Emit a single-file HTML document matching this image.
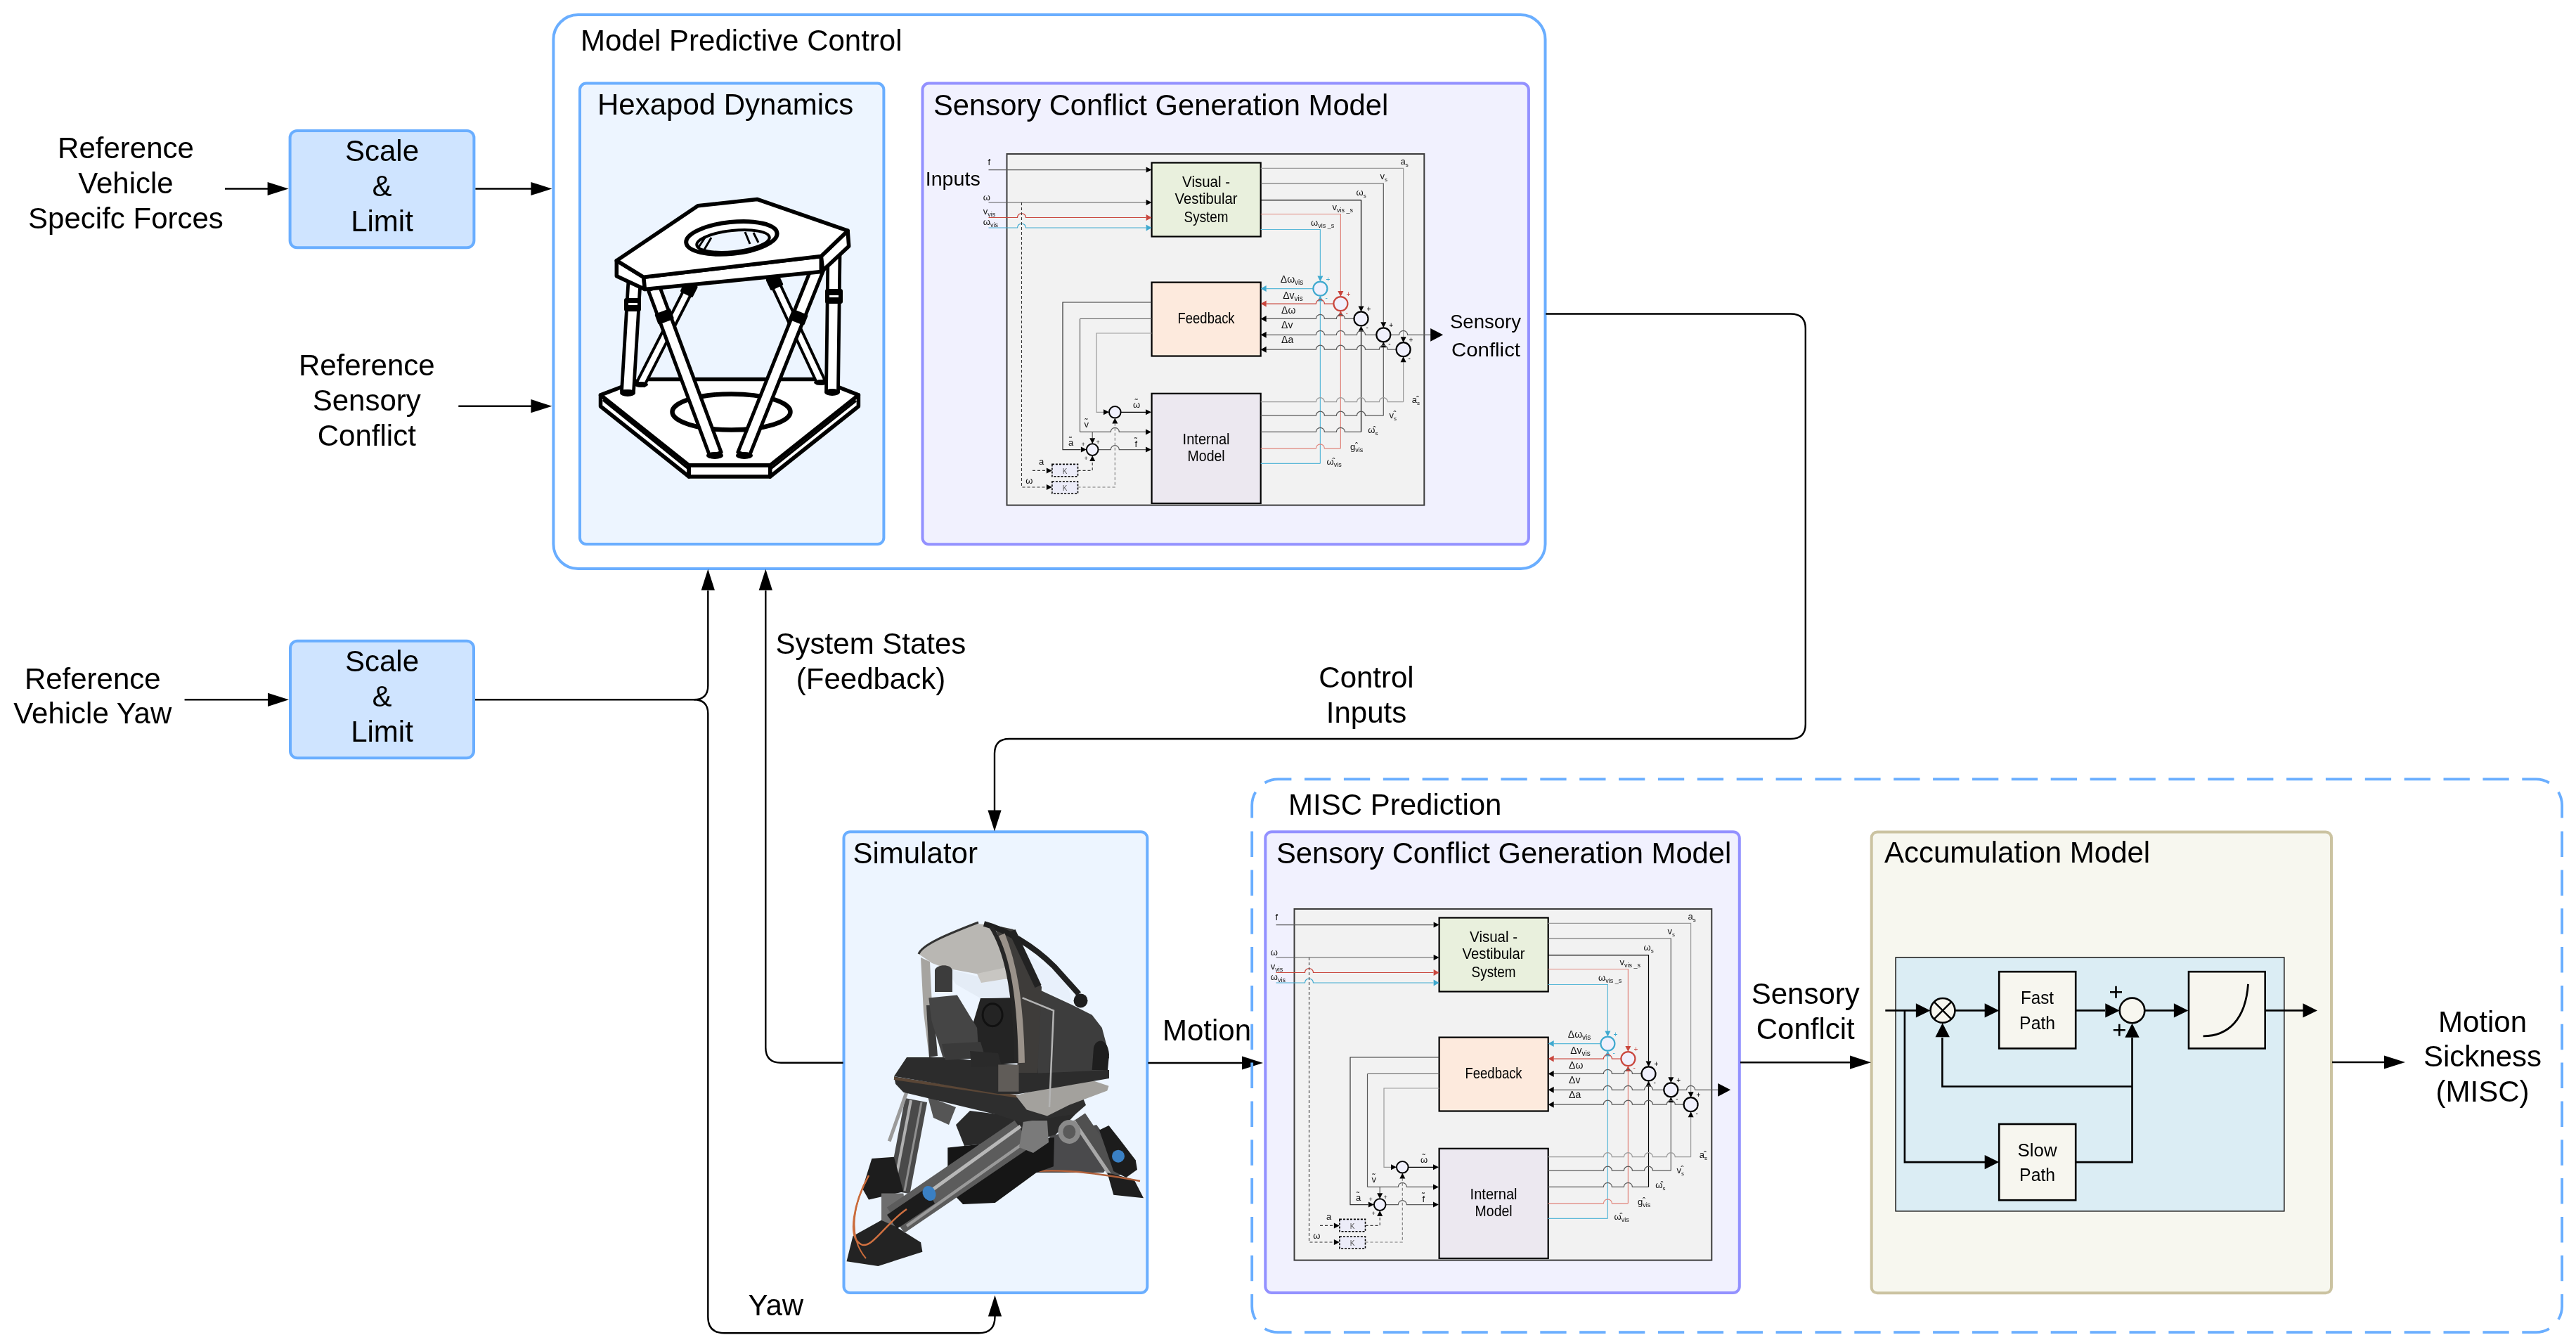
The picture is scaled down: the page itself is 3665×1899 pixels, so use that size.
<!DOCTYPE html><html><head><meta charset="utf-8"><style>html,body{margin:0;padding:0;background:#fff;overflow:hidden}svg{display:block}text{font-family:"Liberation Sans",sans-serif}svg{will-change:transform}</style></head><body>
<svg width="3665" height="1899" viewBox="0 0 3665 1899">
<rect x="787.4" y="21" width="1411.1" height="788" rx="35" ry="35" fill="#fff" stroke="#6aaeff" stroke-width="4"/>
<rect x="825" y="118.6" width="432.4" height="655.4" rx="9" ry="9" fill="#edf5ff" stroke="#6aaeff" stroke-width="4"/>
<rect x="1312.5" y="118.6" width="862.4" height="655.7" rx="9" ry="9" fill="#f1f1fe" stroke="#9391ff" stroke-width="4"/>
<rect x="412.6" y="186" width="261.8" height="166.3" rx="10" ry="10" fill="#cfe4ff" stroke="#6aaeff" stroke-width="4"/>
<rect x="413" y="911.8" width="261" height="166.5" rx="10" ry="10" fill="#cfe4ff" stroke="#6aaeff" stroke-width="4"/>
<rect x="1200.5" y="1183.3" width="431.8" height="655.7" rx="9" ry="9" fill="#edf5ff" stroke="#6aaeff" stroke-width="4"/>
<rect x="1800.3" y="1183.3" width="674.5" height="655.7" rx="9" ry="9" fill="#f1f1fe" stroke="#9391ff" stroke-width="4"/>
<rect x="2662.7" y="1183.6" width="654.3" height="655.6" rx="8" ry="8" fill="#f7f7ef" stroke="#cbc3a1" stroke-width="4"/>
<g transform="translate(1432.5 219)"><rect x="0" y="0" width="593.8" height="499.6" fill="#f2f2f2" stroke="#3c3c3c" stroke-width="2"/>
<rect x="206.1" y="12.5" width="155.1" height="105" fill="#e9f0dd" stroke="#000" stroke-width="2.2"/>
<rect x="206.1" y="182.6" width="155.1" height="104.9" fill="#fdeadd" stroke="#000" stroke-width="2.2"/>
<rect x="206.1" y="340.8" width="155.1" height="156.2" fill="#ece8f0" stroke="#000" stroke-width="2.2"/>
<text x="283.6" y="47.0" font-size="22" text-anchor="middle" fill="#000" textLength="68" lengthAdjust="spacingAndGlyphs">Visual -</text>
<text x="283.6" y="71.4" font-size="22" text-anchor="middle" fill="#000" textLength="89" lengthAdjust="spacingAndGlyphs">Vestibular</text>
<text x="283.6" y="97.0" font-size="22" text-anchor="middle" fill="#000" textLength="63" lengthAdjust="spacingAndGlyphs">System</text>
<text x="283.6" y="240.6" font-size="22" text-anchor="middle" fill="#000" textLength="81" lengthAdjust="spacingAndGlyphs">Feedback</text>
<text x="283.6" y="412.7" font-size="22" text-anchor="middle" fill="#000" textLength="67" lengthAdjust="spacingAndGlyphs">Internal</text>
<text x="283.6" y="437.4" font-size="22" text-anchor="middle" fill="#000" textLength="53" lengthAdjust="spacingAndGlyphs">Model</text>
<path d="M361.2 107.5H445.9V173.6" fill="none" stroke="#5ab8d8" stroke-width="1.2" />
<path d="M445.9 181.6L441.9 173.6L449.9 173.6Z" fill="#3fa9cf"/>
<path d="M361.2 85.5H474.9V195.1" fill="none" stroke="#e0857c" stroke-width="1.2" />
<path d="M474.9 203.1L470.9 195.1L478.9 195.1Z" fill="#c9463d"/>
<path d="M361.2 65.7H504.0V216.4" fill="none" stroke="#000" stroke-width="1.2" />
<path d="M504.0 224.4L500.0 216.4L508.0 216.4Z" fill="#000"/>
<path d="M361.2 42.0H535.8V239.3" fill="none" stroke="#5a5a5a" stroke-width="1.2" />
<path d="M535.8 247.3L531.8 239.3L539.8 239.3Z" fill="#000"/>
<path d="M361.2 20.3H564.1V260.2" fill="none" stroke="#9a9a9a" stroke-width="1.2" />
<path d="M564.1 268.2L560.1 260.2L568.1 260.2Z" fill="#000"/>
<path d="M361.2 440.3H445.9" fill="none" stroke="#5ab8d8" stroke-width="1.2" />
<path d="M445.9 440.3V209.6" fill="none" stroke="#5ab8d8" stroke-width="1.2" />
<path d="M445.9 201.6L441.9 209.6L449.9 209.6Z" fill="#3fa9cf"/>
<path d="M361.2 418.8H439.9A6 6 0 0 1 451.9 418.8H474.9" fill="none" stroke="#e0857c" stroke-width="1.2" />
<path d="M474.9 418.8V231.1" fill="none" stroke="#e0857c" stroke-width="1.2" />
<path d="M474.9 223.1L470.9 231.1L478.9 231.1Z" fill="#c9463d"/>
<path d="M361.2 395.4H439.9A6 6 0 0 1 451.9 395.4H468.9A6 6 0 0 1 480.9 395.4H504.0" fill="none" stroke="#5a5a5a" stroke-width="1.2" />
<path d="M504.0 395.4V252.4" fill="none" stroke="#000" stroke-width="1.2" />
<path d="M504.0 244.4L500.0 252.4L508.0 252.4Z" fill="#000"/>
<path d="M361.2 372.2H439.9A6 6 0 0 1 451.9 372.2H468.9A6 6 0 0 1 480.9 372.2H498.0A6 6 0 0 1 510.0 372.2H535.8" fill="none" stroke="#5a5a5a" stroke-width="1.2" />
<path d="M535.8 372.2V275.3" fill="none" stroke="#5a5a5a" stroke-width="1.2" />
<path d="M535.8 267.3L531.8 275.3L539.8 275.3Z" fill="#000"/>
<path d="M361.2 352.7H439.9A6 6 0 0 1 451.9 352.7H468.9A6 6 0 0 1 480.9 352.7H498.0A6 6 0 0 1 510.0 352.7H529.8A6 6 0 0 1 541.8 352.7H564.1" fill="none" stroke="#9a9a9a" stroke-width="1.2" />
<path d="M564.1 352.7V296.2" fill="none" stroke="#9a9a9a" stroke-width="1.2" />
<path d="M564.1 288.2L560.1 296.2L568.1 296.2Z" fill="#000"/>
<path d="M369.0 191.6H435.9" fill="none" stroke="#5ab8d8" stroke-width="1.2" />
<path d="M361.2 191.6L369.2 187.1L369.2 196.1Z" fill="#3fa9cf"/>
<path d="M369.0 213.1H439.9A6 6 0 0 1 451.9 213.1H464.9" fill="none" stroke="#c9463d" stroke-width="1.2" />
<path d="M361.2 213.1L369.2 208.6L369.2 217.6Z" fill="#c9463d"/>
<path d="M369.0 234.4H439.9A6 6 0 0 1 451.9 234.4H468.9A6 6 0 0 1 480.9 234.4H494.0" fill="none" stroke="#5a5a5a" stroke-width="1.2" />
<path d="M361.2 234.4L369.2 229.9L369.2 238.9Z" fill="#000"/>
<path d="M369.0 257.3H439.9A6 6 0 0 1 451.9 257.3H468.9A6 6 0 0 1 480.9 257.3H498.0A6 6 0 0 1 510.0 257.3H525.8" fill="none" stroke="#5a5a5a" stroke-width="1.2" />
<path d="M361.2 257.3L369.2 252.8L369.2 261.8Z" fill="#000"/>
<path d="M369.0 278.2H439.9A6 6 0 0 1 451.9 278.2H468.9A6 6 0 0 1 480.9 278.2H498.0A6 6 0 0 1 510.0 278.2H529.8A6 6 0 0 1 541.8 278.2H554.1" fill="none" stroke="#5a5a5a" stroke-width="1.2" />
<path d="M361.2 278.2L369.2 273.7L369.2 282.7Z" fill="#000"/>
<path d="M545.8 257.3H558.1A6 6 0 0 1 570.1 257.3H603.0" fill="none" stroke="#5a5a5a" stroke-width="1.2" />
<path d="M620.7 257.3L602.7 247.9L602.7 266.7Z" fill="#000"/>
<circle cx="445.9" cy="191.6" r="10" fill="#f0f0fc" stroke="#3fa9cf" stroke-width="2.2"/>
<text x="453.9" y="181.6" font-size="10" text-anchor="start" fill="#3fa9cf" >+</text>
<text x="452.9" y="207.6" font-size="10" text-anchor="start" fill="#3fa9cf" >-</text>
<circle cx="474.9" cy="213.1" r="10" fill="#f0f0fc" stroke="#c9463d" stroke-width="2.2"/>
<text x="482.9" y="203.1" font-size="10" text-anchor="start" fill="#c9463d" >+</text>
<text x="481.9" y="229.1" font-size="10" text-anchor="start" fill="#c9463d" >-</text>
<circle cx="504.0" cy="234.4" r="10" fill="#f0f0fc" stroke="#000" stroke-width="2.2"/>
<text x="512.0" y="224.4" font-size="10" text-anchor="start" fill="#000" >+</text>
<text x="511.0" y="250.4" font-size="10" text-anchor="start" fill="#000" >-</text>
<circle cx="535.8" cy="257.3" r="10" fill="#f0f0fc" stroke="#000" stroke-width="2.2"/>
<text x="543.8" y="247.3" font-size="10" text-anchor="start" fill="#000" >+</text>
<text x="542.8" y="273.3" font-size="10" text-anchor="start" fill="#000" >-</text>
<circle cx="564.1" cy="278.2" r="10" fill="#f0f0fc" stroke="#000" stroke-width="2.2"/>
<text x="572.1" y="268.2" font-size="10" text-anchor="start" fill="#000" >+</text>
<text x="571.1" y="294.2" font-size="10" text-anchor="start" fill="#000" >-</text>
<text x="560.0" y="14.7" font-size="13" fill="#111">a<tspan font-size="8" dy="3">s</tspan></text>
<text x="531.0" y="36.0" font-size="13" fill="#111">v<tspan font-size="8" dy="3">s</tspan></text>
<text x="497.0" y="58.5" font-size="13" fill="#111">ω<tspan font-size="8" dy="3">s</tspan></text>
<text x="463.0" y="80.0" font-size="13" fill="#111">v<tspan font-size="9" dy="3">vis _s</tspan></text>
<text x="432.5" y="102.3" font-size="13" fill="#111">ω<tspan font-size="9" dy="3">vis _s</tspan></text>
<text x="389.3" y="183.0" font-size="14" fill="#111">Δω<tspan font-size="10" dy="3">vis</tspan></text>
<text x="392.7" y="205.7" font-size="14" fill="#111">Δv<tspan font-size="10" dy="3">vis</tspan></text>
<text x="390.6" y="227.0" font-size="14" text-anchor="start" fill="#111" >Δω</text>
<text x="390.6" y="248.4" font-size="14" text-anchor="start" fill="#111" >Δv</text>
<text x="390.6" y="268.6" font-size="14" text-anchor="start" fill="#111" >Δa</text>
<text x="576.3" y="354.3" font-size="13" fill="#111">a<tspan font-size="8" dy="3">s</tspan></text>
<text x="582.5" y="354.0" font-size="12" text-anchor="start" fill="#111" >ˆ</text>
<text x="544.0" y="375.6" font-size="13" fill="#111">v<tspan font-size="8" dy="3">s</tspan></text>
<text x="550.0" y="375.0" font-size="12" text-anchor="start" fill="#111" >ˆ</text>
<text x="513.8" y="397.0" font-size="13" fill="#111">ω<tspan font-size="8" dy="3">s</tspan></text>
<text x="521.0" y="396.5" font-size="12" text-anchor="start" fill="#111" >ˆ</text>
<text x="488.6" y="420.6" font-size="13" fill="#111">g<tspan font-size="9" dy="3">vis</tspan></text>
<text x="495.5" y="420.0" font-size="12" text-anchor="start" fill="#111" >ˆ</text>
<text x="455.0" y="442.0" font-size="13" fill="#111">ω<tspan font-size="9" dy="3">vis</tspan></text>
<text x="463.0" y="441.5" font-size="12" text-anchor="start" fill="#111" >ˆ</text>
<path d="M-26 22.6H198" fill="none" stroke="#5a5a5a" stroke-width="1.2" />
<path d="M206.1 22.6L198.1 18.6L198.1 26.6Z" fill="#000"/>
<path d="M-26 69H198" fill="none" stroke="#5a5a5a" stroke-width="1.2" />
<path d="M206.1 69.0L198.1 65.0L198.1 73.0Z" fill="#000"/>
<path d="M-26.0 90.5H15.0A6 6 0 0 1 27.0 90.5H198.0" fill="none" stroke="#c9463d" stroke-width="1.2" />
<path d="M206.1 90.5L198.1 86.0L198.1 95.0Z" fill="#c9463d"/>
<path d="M-26.0 105.0H15.0A6 6 0 0 1 27.0 105.0H198.0" fill="none" stroke="#3fa9cf" stroke-width="1.2" />
<path d="M206.1 105.0L198.1 100.5L198.1 109.5Z" fill="#3fa9cf"/>
<text x="-27.0" y="15.8" font-size="13" text-anchor="start" fill="#111" >f</text>
<text x="-33.7" y="66.4" font-size="13" text-anchor="start" fill="#111" >ω</text>
<text x="-33.7" y="85.5" font-size="13" fill="#111">v<tspan font-size="9" dy="3">vis</tspan></text>
<text x="-33.7" y="101.0" font-size="13" fill="#111">ω<tspan font-size="9" dy="3">vis</tspan></text>
<path d="M21 69V474H56" fill="none" stroke="#333" stroke-width="1.1" stroke-dasharray="4 3"/>
<path d="M64.4 474.0L56.4 470.0L56.4 478.0Z" fill="#000"/>
<path d="M206.1 211H79.5V420.6H105" fill="none" stroke="#333" stroke-width="1.2" />
<path d="M113.4 420.6L105.4 416.6L105.4 424.6Z" fill="#000"/>
<path d="M104.0 395.4H147.8A6 6 0 0 1 159.8 395.4H198.0" fill="none" stroke="#5a5a5a" stroke-width="1.2" />
<path d="M104 234.5 V395.4" fill="none" stroke="#5a5a5a" stroke-width="1.2" />
<path d="M206.1 234.5H104" fill="none" stroke="#5a5a5a" stroke-width="1.2" />
<path d="M121.7 395.4V404.3" fill="none" stroke="#5a5a5a" stroke-width="1.2" />
<path d="M121.7 412.3L117.7 404.3L125.7 404.3Z" fill="#000"/>
<path d="M205.5 395.4L197.5 391.4L197.5 399.4Z" fill="#000"/>
<path d="M206.1 255H127.5V367.3H137.5" fill="none" stroke="#9a9a9a" stroke-width="1.2" />
<path d="M145.5 367.3L137.5 363.3L137.5 371.3Z" fill="#000"/>
<path d="M162.1 367.3H198" fill="none" stroke="#000" stroke-width="1.2" />
<path d="M205.5 367.3L197.5 363.3L197.5 371.3Z" fill="#000"/>
<path d="M130.0 420.6H147.8A6 6 0 0 1 159.8 420.6H198.0" fill="none" stroke="#5a5a5a" stroke-width="1.2" />
<path d="M205.5 420.6L197.5 416.6L197.5 424.6Z" fill="#000"/>
<circle cx="121.7" cy="420.6" r="8.3" fill="#f0f0fc" stroke="#000" stroke-width="2"/>
<circle cx="153.8" cy="367.3" r="8.3" fill="#f0f0fc" stroke="#000" stroke-width="2"/>
<text x="127.0" y="413.0" font-size="9" text-anchor="start" fill="#111" >+</text>
<text x="106.0" y="416.0" font-size="9" text-anchor="start" fill="#111" >+</text>
<text x="110.0" y="436.0" font-size="9" text-anchor="start" fill="#111" >+</text>
<rect x="64.4" y="441.4" width="36.6" height="17.4" fill="#ececf8" stroke="#000" stroke-width="1.6" stroke-dasharray="3 2"/>
<rect x="64.4" y="466" width="36.6" height="17" fill="#ececf8" stroke="#000" stroke-width="1.6" stroke-dasharray="3 2"/>
<text x="82.7" y="455.0" font-size="10" text-anchor="middle" fill="#555" >K</text>
<text x="82.7" y="479.0" font-size="10" text-anchor="middle" fill="#555" >K</text>
<path d="M36.5 450.4H56" fill="none" stroke="#333" stroke-width="1.1" stroke-dasharray="4 3"/>
<path d="M64.4 450.4L56.4 446.4L56.4 454.4Z" fill="#000"/>
<path d="M101 450.4H121.7V437" fill="none" stroke="#333" stroke-width="1.1" stroke-dasharray="4 3"/>
<path d="M121.7 428.9L117.7 436.9L125.7 436.9Z" fill="#000"/>
<path d="M101 474H153.8V383.6" fill="none" stroke="#777" stroke-width="1.1" stroke-dasharray="4 3"/>
<path d="M153.8 375.6L149.8 383.6L157.8 383.6Z" fill="#000"/>
<text x="45.5" y="442.0" font-size="13" text-anchor="start" fill="#111" >a</text>
<text x="26.8" y="468.9" font-size="13" text-anchor="start" fill="#111" >ω</text>
<text x="179.6" y="361.0" font-size="13" text-anchor="start" fill="#111" >ω</text>
<text x="182.3" y="358.0" font-size="12" text-anchor="start" fill="#111" >˜</text>
<text x="110.0" y="389.0" font-size="13" text-anchor="start" fill="#111" >v</text>
<text x="111.0" y="386.0" font-size="12" text-anchor="start" fill="#111" >˜</text>
<text x="87.5" y="415.0" font-size="13" text-anchor="start" fill="#111" >a</text>
<text x="88.5" y="412.0" font-size="12" text-anchor="start" fill="#111" >˜</text>
<text x="182.0" y="417.0" font-size="13" text-anchor="start" fill="#111" >f</text>
<text x="181.5" y="412.5" font-size="12" text-anchor="start" fill="#111" >˜</text>
<text x="-115.8" y="45.0" font-size="28" text-anchor="start" fill="#000" textLength="78" lengthAdjust="spacingAndGlyphs">Inputs</text>
<text x="630.5" y="248.4" font-size="28" text-anchor="start" fill="#000" textLength="101" lengthAdjust="spacingAndGlyphs">Sensory</text>
<text x="632.5" y="287.5" font-size="28" text-anchor="start" fill="#000" textLength="98" lengthAdjust="spacingAndGlyphs">Conflict</text></g>
<g transform="translate(1841.5 1293)"><rect x="0" y="0" width="593.8" height="499.6" fill="#f2f2f2" stroke="#3c3c3c" stroke-width="2"/>
<rect x="206.1" y="12.5" width="155.1" height="105" fill="#e9f0dd" stroke="#000" stroke-width="2.2"/>
<rect x="206.1" y="182.6" width="155.1" height="104.9" fill="#fdeadd" stroke="#000" stroke-width="2.2"/>
<rect x="206.1" y="340.8" width="155.1" height="156.2" fill="#ece8f0" stroke="#000" stroke-width="2.2"/>
<text x="283.6" y="47.0" font-size="22" text-anchor="middle" fill="#000" textLength="68" lengthAdjust="spacingAndGlyphs">Visual -</text>
<text x="283.6" y="71.4" font-size="22" text-anchor="middle" fill="#000" textLength="89" lengthAdjust="spacingAndGlyphs">Vestibular</text>
<text x="283.6" y="97.0" font-size="22" text-anchor="middle" fill="#000" textLength="63" lengthAdjust="spacingAndGlyphs">System</text>
<text x="283.6" y="240.6" font-size="22" text-anchor="middle" fill="#000" textLength="81" lengthAdjust="spacingAndGlyphs">Feedback</text>
<text x="283.6" y="412.7" font-size="22" text-anchor="middle" fill="#000" textLength="67" lengthAdjust="spacingAndGlyphs">Internal</text>
<text x="283.6" y="437.4" font-size="22" text-anchor="middle" fill="#000" textLength="53" lengthAdjust="spacingAndGlyphs">Model</text>
<path d="M361.2 107.5H445.9V173.6" fill="none" stroke="#5ab8d8" stroke-width="1.2" />
<path d="M445.9 181.6L441.9 173.6L449.9 173.6Z" fill="#3fa9cf"/>
<path d="M361.2 85.5H474.9V195.1" fill="none" stroke="#e0857c" stroke-width="1.2" />
<path d="M474.9 203.1L470.9 195.1L478.9 195.1Z" fill="#c9463d"/>
<path d="M361.2 65.7H504.0V216.4" fill="none" stroke="#000" stroke-width="1.2" />
<path d="M504.0 224.4L500.0 216.4L508.0 216.4Z" fill="#000"/>
<path d="M361.2 42.0H535.8V239.3" fill="none" stroke="#5a5a5a" stroke-width="1.2" />
<path d="M535.8 247.3L531.8 239.3L539.8 239.3Z" fill="#000"/>
<path d="M361.2 20.3H564.1V260.2" fill="none" stroke="#9a9a9a" stroke-width="1.2" />
<path d="M564.1 268.2L560.1 260.2L568.1 260.2Z" fill="#000"/>
<path d="M361.2 440.3H445.9" fill="none" stroke="#5ab8d8" stroke-width="1.2" />
<path d="M445.9 440.3V209.6" fill="none" stroke="#5ab8d8" stroke-width="1.2" />
<path d="M445.9 201.6L441.9 209.6L449.9 209.6Z" fill="#3fa9cf"/>
<path d="M361.2 418.8H439.9A6 6 0 0 1 451.9 418.8H474.9" fill="none" stroke="#e0857c" stroke-width="1.2" />
<path d="M474.9 418.8V231.1" fill="none" stroke="#e0857c" stroke-width="1.2" />
<path d="M474.9 223.1L470.9 231.1L478.9 231.1Z" fill="#c9463d"/>
<path d="M361.2 395.4H439.9A6 6 0 0 1 451.9 395.4H468.9A6 6 0 0 1 480.9 395.4H504.0" fill="none" stroke="#5a5a5a" stroke-width="1.2" />
<path d="M504.0 395.4V252.4" fill="none" stroke="#000" stroke-width="1.2" />
<path d="M504.0 244.4L500.0 252.4L508.0 252.4Z" fill="#000"/>
<path d="M361.2 372.2H439.9A6 6 0 0 1 451.9 372.2H468.9A6 6 0 0 1 480.9 372.2H498.0A6 6 0 0 1 510.0 372.2H535.8" fill="none" stroke="#5a5a5a" stroke-width="1.2" />
<path d="M535.8 372.2V275.3" fill="none" stroke="#5a5a5a" stroke-width="1.2" />
<path d="M535.8 267.3L531.8 275.3L539.8 275.3Z" fill="#000"/>
<path d="M361.2 352.7H439.9A6 6 0 0 1 451.9 352.7H468.9A6 6 0 0 1 480.9 352.7H498.0A6 6 0 0 1 510.0 352.7H529.8A6 6 0 0 1 541.8 352.7H564.1" fill="none" stroke="#9a9a9a" stroke-width="1.2" />
<path d="M564.1 352.7V296.2" fill="none" stroke="#9a9a9a" stroke-width="1.2" />
<path d="M564.1 288.2L560.1 296.2L568.1 296.2Z" fill="#000"/>
<path d="M369.0 191.6H435.9" fill="none" stroke="#5ab8d8" stroke-width="1.2" />
<path d="M361.2 191.6L369.2 187.1L369.2 196.1Z" fill="#3fa9cf"/>
<path d="M369.0 213.1H439.9A6 6 0 0 1 451.9 213.1H464.9" fill="none" stroke="#c9463d" stroke-width="1.2" />
<path d="M361.2 213.1L369.2 208.6L369.2 217.6Z" fill="#c9463d"/>
<path d="M369.0 234.4H439.9A6 6 0 0 1 451.9 234.4H468.9A6 6 0 0 1 480.9 234.4H494.0" fill="none" stroke="#5a5a5a" stroke-width="1.2" />
<path d="M361.2 234.4L369.2 229.9L369.2 238.9Z" fill="#000"/>
<path d="M369.0 257.3H439.9A6 6 0 0 1 451.9 257.3H468.9A6 6 0 0 1 480.9 257.3H498.0A6 6 0 0 1 510.0 257.3H525.8" fill="none" stroke="#5a5a5a" stroke-width="1.2" />
<path d="M361.2 257.3L369.2 252.8L369.2 261.8Z" fill="#000"/>
<path d="M369.0 278.2H439.9A6 6 0 0 1 451.9 278.2H468.9A6 6 0 0 1 480.9 278.2H498.0A6 6 0 0 1 510.0 278.2H529.8A6 6 0 0 1 541.8 278.2H554.1" fill="none" stroke="#5a5a5a" stroke-width="1.2" />
<path d="M361.2 278.2L369.2 273.7L369.2 282.7Z" fill="#000"/>
<path d="M545.8 257.3H558.1A6 6 0 0 1 570.1 257.3H603.0" fill="none" stroke="#5a5a5a" stroke-width="1.2" />
<path d="M620.7 257.3L602.7 247.9L602.7 266.7Z" fill="#000"/>
<circle cx="445.9" cy="191.6" r="10" fill="#f0f0fc" stroke="#3fa9cf" stroke-width="2.2"/>
<text x="453.9" y="181.6" font-size="10" text-anchor="start" fill="#3fa9cf" >+</text>
<text x="452.9" y="207.6" font-size="10" text-anchor="start" fill="#3fa9cf" >-</text>
<circle cx="474.9" cy="213.1" r="10" fill="#f0f0fc" stroke="#c9463d" stroke-width="2.2"/>
<text x="482.9" y="203.1" font-size="10" text-anchor="start" fill="#c9463d" >+</text>
<text x="481.9" y="229.1" font-size="10" text-anchor="start" fill="#c9463d" >-</text>
<circle cx="504.0" cy="234.4" r="10" fill="#f0f0fc" stroke="#000" stroke-width="2.2"/>
<text x="512.0" y="224.4" font-size="10" text-anchor="start" fill="#000" >+</text>
<text x="511.0" y="250.4" font-size="10" text-anchor="start" fill="#000" >-</text>
<circle cx="535.8" cy="257.3" r="10" fill="#f0f0fc" stroke="#000" stroke-width="2.2"/>
<text x="543.8" y="247.3" font-size="10" text-anchor="start" fill="#000" >+</text>
<text x="542.8" y="273.3" font-size="10" text-anchor="start" fill="#000" >-</text>
<circle cx="564.1" cy="278.2" r="10" fill="#f0f0fc" stroke="#000" stroke-width="2.2"/>
<text x="572.1" y="268.2" font-size="10" text-anchor="start" fill="#000" >+</text>
<text x="571.1" y="294.2" font-size="10" text-anchor="start" fill="#000" >-</text>
<text x="560.0" y="14.7" font-size="13" fill="#111">a<tspan font-size="8" dy="3">s</tspan></text>
<text x="531.0" y="36.0" font-size="13" fill="#111">v<tspan font-size="8" dy="3">s</tspan></text>
<text x="497.0" y="58.5" font-size="13" fill="#111">ω<tspan font-size="8" dy="3">s</tspan></text>
<text x="463.0" y="80.0" font-size="13" fill="#111">v<tspan font-size="9" dy="3">vis _s</tspan></text>
<text x="432.5" y="102.3" font-size="13" fill="#111">ω<tspan font-size="9" dy="3">vis _s</tspan></text>
<text x="389.3" y="183.0" font-size="14" fill="#111">Δω<tspan font-size="10" dy="3">vis</tspan></text>
<text x="392.7" y="205.7" font-size="14" fill="#111">Δv<tspan font-size="10" dy="3">vis</tspan></text>
<text x="390.6" y="227.0" font-size="14" text-anchor="start" fill="#111" >Δω</text>
<text x="390.6" y="248.4" font-size="14" text-anchor="start" fill="#111" >Δv</text>
<text x="390.6" y="268.6" font-size="14" text-anchor="start" fill="#111" >Δa</text>
<text x="576.3" y="354.3" font-size="13" fill="#111">a<tspan font-size="8" dy="3">s</tspan></text>
<text x="582.5" y="354.0" font-size="12" text-anchor="start" fill="#111" >ˆ</text>
<text x="544.0" y="375.6" font-size="13" fill="#111">v<tspan font-size="8" dy="3">s</tspan></text>
<text x="550.0" y="375.0" font-size="12" text-anchor="start" fill="#111" >ˆ</text>
<text x="513.8" y="397.0" font-size="13" fill="#111">ω<tspan font-size="8" dy="3">s</tspan></text>
<text x="521.0" y="396.5" font-size="12" text-anchor="start" fill="#111" >ˆ</text>
<text x="488.6" y="420.6" font-size="13" fill="#111">g<tspan font-size="9" dy="3">vis</tspan></text>
<text x="495.5" y="420.0" font-size="12" text-anchor="start" fill="#111" >ˆ</text>
<text x="455.0" y="442.0" font-size="13" fill="#111">ω<tspan font-size="9" dy="3">vis</tspan></text>
<text x="463.0" y="441.5" font-size="12" text-anchor="start" fill="#111" >ˆ</text>
<path d="M-26 22.6H198" fill="none" stroke="#5a5a5a" stroke-width="1.2" />
<path d="M206.1 22.6L198.1 18.6L198.1 26.6Z" fill="#000"/>
<path d="M-26 69H198" fill="none" stroke="#5a5a5a" stroke-width="1.2" />
<path d="M206.1 69.0L198.1 65.0L198.1 73.0Z" fill="#000"/>
<path d="M-26.0 90.5H15.0A6 6 0 0 1 27.0 90.5H198.0" fill="none" stroke="#c9463d" stroke-width="1.2" />
<path d="M206.1 90.5L198.1 86.0L198.1 95.0Z" fill="#c9463d"/>
<path d="M-26.0 105.0H15.0A6 6 0 0 1 27.0 105.0H198.0" fill="none" stroke="#3fa9cf" stroke-width="1.2" />
<path d="M206.1 105.0L198.1 100.5L198.1 109.5Z" fill="#3fa9cf"/>
<text x="-27.0" y="15.8" font-size="13" text-anchor="start" fill="#111" >f</text>
<text x="-33.7" y="66.4" font-size="13" text-anchor="start" fill="#111" >ω</text>
<text x="-33.7" y="85.5" font-size="13" fill="#111">v<tspan font-size="9" dy="3">vis</tspan></text>
<text x="-33.7" y="101.0" font-size="13" fill="#111">ω<tspan font-size="9" dy="3">vis</tspan></text>
<path d="M21 69V474H56" fill="none" stroke="#333" stroke-width="1.1" stroke-dasharray="4 3"/>
<path d="M64.4 474.0L56.4 470.0L56.4 478.0Z" fill="#000"/>
<path d="M206.1 211H79.5V420.6H105" fill="none" stroke="#333" stroke-width="1.2" />
<path d="M113.4 420.6L105.4 416.6L105.4 424.6Z" fill="#000"/>
<path d="M104.0 395.4H147.8A6 6 0 0 1 159.8 395.4H198.0" fill="none" stroke="#5a5a5a" stroke-width="1.2" />
<path d="M104 234.5 V395.4" fill="none" stroke="#5a5a5a" stroke-width="1.2" />
<path d="M206.1 234.5H104" fill="none" stroke="#5a5a5a" stroke-width="1.2" />
<path d="M121.7 395.4V404.3" fill="none" stroke="#5a5a5a" stroke-width="1.2" />
<path d="M121.7 412.3L117.7 404.3L125.7 404.3Z" fill="#000"/>
<path d="M205.5 395.4L197.5 391.4L197.5 399.4Z" fill="#000"/>
<path d="M206.1 255H127.5V367.3H137.5" fill="none" stroke="#9a9a9a" stroke-width="1.2" />
<path d="M145.5 367.3L137.5 363.3L137.5 371.3Z" fill="#000"/>
<path d="M162.1 367.3H198" fill="none" stroke="#000" stroke-width="1.2" />
<path d="M205.5 367.3L197.5 363.3L197.5 371.3Z" fill="#000"/>
<path d="M130.0 420.6H147.8A6 6 0 0 1 159.8 420.6H198.0" fill="none" stroke="#5a5a5a" stroke-width="1.2" />
<path d="M205.5 420.6L197.5 416.6L197.5 424.6Z" fill="#000"/>
<circle cx="121.7" cy="420.6" r="8.3" fill="#f0f0fc" stroke="#000" stroke-width="2"/>
<circle cx="153.8" cy="367.3" r="8.3" fill="#f0f0fc" stroke="#000" stroke-width="2"/>
<text x="127.0" y="413.0" font-size="9" text-anchor="start" fill="#111" >+</text>
<text x="106.0" y="416.0" font-size="9" text-anchor="start" fill="#111" >+</text>
<text x="110.0" y="436.0" font-size="9" text-anchor="start" fill="#111" >+</text>
<rect x="64.4" y="441.4" width="36.6" height="17.4" fill="#ececf8" stroke="#000" stroke-width="1.6" stroke-dasharray="3 2"/>
<rect x="64.4" y="466" width="36.6" height="17" fill="#ececf8" stroke="#000" stroke-width="1.6" stroke-dasharray="3 2"/>
<text x="82.7" y="455.0" font-size="10" text-anchor="middle" fill="#555" >K</text>
<text x="82.7" y="479.0" font-size="10" text-anchor="middle" fill="#555" >K</text>
<path d="M36.5 450.4H56" fill="none" stroke="#333" stroke-width="1.1" stroke-dasharray="4 3"/>
<path d="M64.4 450.4L56.4 446.4L56.4 454.4Z" fill="#000"/>
<path d="M101 450.4H121.7V437" fill="none" stroke="#333" stroke-width="1.1" stroke-dasharray="4 3"/>
<path d="M121.7 428.9L117.7 436.9L125.7 436.9Z" fill="#000"/>
<path d="M101 474H153.8V383.6" fill="none" stroke="#777" stroke-width="1.1" stroke-dasharray="4 3"/>
<path d="M153.8 375.6L149.8 383.6L157.8 383.6Z" fill="#000"/>
<text x="45.5" y="442.0" font-size="13" text-anchor="start" fill="#111" >a</text>
<text x="26.8" y="468.9" font-size="13" text-anchor="start" fill="#111" >ω</text>
<text x="179.6" y="361.0" font-size="13" text-anchor="start" fill="#111" >ω</text>
<text x="182.3" y="358.0" font-size="12" text-anchor="start" fill="#111" >˜</text>
<text x="110.0" y="389.0" font-size="13" text-anchor="start" fill="#111" >v</text>
<text x="111.0" y="386.0" font-size="12" text-anchor="start" fill="#111" >˜</text>
<text x="87.5" y="415.0" font-size="13" text-anchor="start" fill="#111" >a</text>
<text x="88.5" y="412.0" font-size="12" text-anchor="start" fill="#111" >˜</text>
<text x="182.0" y="417.0" font-size="13" text-anchor="start" fill="#111" >f</text>
<text x="181.5" y="412.5" font-size="12" text-anchor="start" fill="#111" >˜</text></g>
<polygon points="854.5,561.9 980.2,661.8 980.2,678 854.5,578" fill="#fff" stroke="#000" stroke-width="5.5" stroke-linejoin="round"/>
<polygon points="980.2,661.8 1095.7,661.8 1095.7,678 980.2,678" fill="#fff" stroke="#000" stroke-width="5.5" stroke-linejoin="round"/>
<polygon points="1095.7,661.8 1221.4,561.9 1221.4,578 1095.7,678" fill="#fff" stroke="#000" stroke-width="5.5" stroke-linejoin="round"/>
<polygon points="854.5,561.9 913,539.5 1164.6,539.5 1221.4,561.9 1095.7,661.8 980.2,661.8" fill="#fff" stroke="#000" stroke-width="5.5" stroke-linejoin="round"/>
<path d="M858 569 L980.2 667.5 M1095.7 667.5 L1218 570" stroke="#000" stroke-width="3.5"/>
<ellipse cx="1040.5" cy="586" rx="84" ry="25.5" fill="none" stroke="#000" stroke-width="6.5"/>
<polygon points="982.7,393.3 906.0,543.6 916.6,549.0 993.3,398.7" fill="#fff" stroke="#000" stroke-width="4" stroke-linejoin="round"/>
<polygon points="1087.6,384.5 1162.6,545.5 1173.4,540.5 1098.4,379.5" fill="#fff" stroke="#000" stroke-width="4" stroke-linejoin="round"/>
<rect x="-9.0" y="-10.0" width="18.0" height="20.0" rx="2" fill="#000" transform="translate(980.3 411.0) rotate(117.0)"/>
<rect x="-9.0" y="-10.0" width="18.0" height="20.0" rx="2" fill="#000" transform="translate(1102.0 401.3) rotate(65.0)"/>
<polygon points="894.0,399.5 884.5,556.5 901.5,557.5 911.0,400.5" fill="#fff" stroke="#000" stroke-width="4.8" stroke-linejoin="round"/>
<polygon points="1178.0,359.9 1175.5,556.9 1192.5,557.1 1195.0,360.1" fill="#fff" stroke="#000" stroke-width="4.8" stroke-linejoin="round"/>
<rect x="888" y="424" width="24" height="19" rx="3" fill="#000"/>
<rect x="1174" y="411" width="25" height="21" rx="3" fill="#000"/>
<rect x="894" y="431" width="13" height="3" fill="#fff"/>
<rect x="1180" y="420" width="13" height="3" fill="#fff"/>
<ellipse cx="893" cy="559" rx="11" ry="5" fill="#000"/>
<ellipse cx="1184" cy="558" rx="11" ry="5" fill="#000"/>
<ellipse cx="912" cy="547" rx="10" ry="4" fill="#000"/>
<ellipse cx="1168" cy="544" rx="10" ry="4" fill="#000"/>
<polygon points="922.3,413.0 1010.1,649.3 1026.1,643.3 938.3,407.0" fill="#fff" stroke="#000" stroke-width="5" stroke-linejoin="round"/>
<polygon points="1156.7,375.8 1049.9,643.1 1065.7,649.5 1172.5,382.2" fill="#fff" stroke="#000" stroke-width="5" stroke-linejoin="round"/>
<rect x="-8.0" y="-12.0" width="16.0" height="24.0" rx="2" fill="#000" transform="translate(945.2 450.2) rotate(69.6)"/>
<rect x="-8.0" y="-12.0" width="16.0" height="24.0" rx="2" fill="#000" transform="translate(1135.8 451.2) rotate(111.8)"/>
<ellipse cx="1017" cy="648" rx="12" ry="5" fill="#000"/>
<ellipse cx="1059" cy="648" rx="12" ry="5" fill="#000"/>
<polygon points="877.3,370.7 915.8,394.3 917.4,411.6 877.3,392.7" fill="#fff" stroke="#000" stroke-width="5.5" stroke-linejoin="round"/>
<polygon points="915.8,394.3 1168.3,364.4 1168.3,386.4 917.4,411.6" fill="#fff" stroke="#000" stroke-width="5.5" stroke-linejoin="round"/>
<polygon points="1168.3,364.4 1206.1,328.2 1207.7,350.2 1170.7,384.8" fill="#fff" stroke="#000" stroke-width="5.5" stroke-linejoin="round"/>
<polygon points="877.3,370.7 992.9,292.8 1077.1,283.4 1206.1,328.2 1168.3,364.4 915.8,394.3" fill="#fff" stroke="#000" stroke-width="5.5" stroke-linejoin="round"/>
<ellipse cx="1040.9" cy="338.4" rx="65" ry="22.5" transform="rotate(-6 1040.9 338.4)" fill="#fff" stroke="#000" stroke-width="6"/>
<ellipse cx="1043" cy="343" rx="52" ry="15" transform="rotate(-6 1043 343)" fill="#edf5ff" stroke="#000" stroke-width="4"/>
<path d="M993 353 L1003 338 M1002 355 L1012 338" stroke="#000" stroke-width="3"/>
<path d="M1060 330 L1067 347 M1072 331 L1079 345" stroke="#000" stroke-width="3"/>
<polygon points="1380.0,1580.0 1420.0,1585.0 1530.0,1585.0 1500.0,1616.0 1420.0,1625.0 1372.0,1630.0 1360.0,1600.0" fill="#2a2a2a" />
<polygon points="1320.0,1560.0 1360.0,1575.0 1350.0,1600.0 1328.0,1590.0" fill="#555" />
<polygon points="1494.0,1616.0 1560.0,1600.0 1590.0,1640.0 1570.0,1668.0 1474.0,1668.0" fill="#4a4a4c" />
<path d="M1534.8 1589.7L1591 1672.8" stroke="#505050" stroke-width="22" stroke-linecap="butt" />
<path d="M1527 1594L1583 1677" stroke="#a8a8a8" stroke-width="5" stroke-linecap="butt" />
<polygon points="1564.0,1607.6 1577.5,1600.9 1593.3,1621.1 1615.7,1650.3 1618.0,1663.8 1602.2,1675.0 1584.3,1666.0" fill="#1c1c1c" />
<polygon points="1575.3,1668.0 1613.5,1678.0 1627.0,1704.3 1584.3,1699.8" fill="#1e1e1e" />
<ellipse cx="1521.3" cy="1609.9" rx="16" ry="17" fill="#8a8a8a"/>
<ellipse cx="1521.3" cy="1609.9" rx="9" ry="10" fill="#5a5a5a"/>
<circle cx="1591" cy="1644.7" r="9" fill="#3a80c4"/>
<path d="M1474 1666 C1520 1662 1580 1672 1622 1680" fill="none" stroke="#b0603a" stroke-width="2.5"/>
<path d="M1303.4 1565L1278.7 1695.3" stroke="#4a4a4a" stroke-width="32" stroke-linecap="butt" />
<path d="M1296 1565L1272 1690" stroke="#b0b0b0" stroke-width="4" stroke-linecap="butt" />
<path d="M1311 1568L1287 1694" stroke="#909090" stroke-width="3" stroke-linecap="butt" />
<path d="M1289.9 1553.7L1265.2 1623.4" stroke="#9a9a9a" stroke-width="5" stroke-linecap="butt" />
<polygon points="1240.4,1648.1 1271.9,1645.8 1285.4,1695.3 1236.0,1706.5 1227.0,1690.8" fill="#1d1d1d" />
<polygon points="1254.0,1697.5 1285.4,1697.5 1292.0,1744.7 1254.0,1744.7" fill="#6e6e6e" />
<polygon points="1213.5,1758.2 1253.9,1735.7 1274.2,1744.7 1310.1,1767.2 1312.4,1780.7 1249.4,1800.9 1204.5,1794.2" fill="#232323" />
<polygon points="1348.3,1632.4 1420.0,1625.0 1500.0,1618.0 1498.9,1659.3 1474.2,1668.3 1415.7,1711.0 1370.0,1713.0 1348.3,1690.0" fill="#161616" />
<path d="M1274.2 1735.7L1456 1612" stroke="#5c5c5c" stroke-width="44" stroke-linecap="butt" />
<path d="M1280 1726L1452 1602" stroke="#b8b8b8" stroke-width="5" stroke-linecap="butt" />
<path d="M1290 1744L1462 1622" stroke="#9a9a9a" stroke-width="4" stroke-linecap="butt" />
<polygon points="1456.0,1594.0 1490.0,1594.0 1492.0,1625.0 1470.0,1640.0 1450.0,1632.0" fill="#7a7a7a" />
<polygon points="1262.0,1728.0 1318.0,1690.0 1330.0,1712.0 1276.0,1748.0" fill="#1c1c1c" />
<ellipse cx="1322" cy="1697.5" rx="9" ry="11" fill="#3a80c4" transform="rotate(-30 1322 1697.5)"/>
<path d="M1236 1672 C1215 1710 1205 1760 1225 1770 C1240 1778 1260 1740 1290 1720" fill="none" stroke="#d07040" stroke-width="2.5"/>
<path d="M1232 1680 C1212 1720 1208 1762 1232 1790" fill="none" stroke="#c86a3a" stroke-width="2"/>
<polygon points="1271.9,1531.2 1420.0,1556.0 1540.0,1560.0 1545.0,1572.0 1530.0,1585.0 1451.7,1596.4 1420.0,1586.0 1285.4,1553.7 1274.2,1542.0" fill="#2e2e2e" />
<path d="M1272 1534 L1450 1560" stroke="#5a4636" stroke-width="4"/>
<polygon points="1444.9,1558.2 1543.8,1533.5 1577.5,1544.7 1575.3,1551.5 1521.3,1571.7 1489.9,1587.4 1460.7,1578.4" fill="#a3a19d" />
<polygon points="1290.0,1504.0 1341.6,1504.0 1400.0,1510.0 1455.0,1516.0 1540.0,1520.0 1578.0,1522.0 1578.0,1534.0 1450.0,1556.0 1420.0,1556.0 1272.0,1531.0" fill="#2c2c2c" />
<polygon points="1395.0,1420.0 1446.0,1419.0 1452.0,1512.0 1396.0,1515.0 1380.0,1470.0" fill="#242424" />
<ellipse cx="1412.1" cy="1443.7" rx="14" ry="16" fill="none" stroke="#111" stroke-width="3"/>
<polygon points="1345.0,1377.0 1395.0,1390.0 1440.0,1395.0 1446.0,1419.0 1395.0,1420.0 1360.0,1400.0" fill="#e4ecf6" />
<path d="M1307 1357 C1310 1345 1340 1333 1390 1314 L1412 1316 L1440 1371 L1445 1395 L1405 1388 L1372 1382 L1345 1377 L1326 1370 Z" fill="#b9b7b3"/>
<path d="M1307 1357 C1312 1344 1345 1330 1392 1312" fill="none" stroke="#333" stroke-width="3"/>
<path d="M1390 1385 L1432 1376 L1434 1392 L1396 1398 Z" fill="#c8c6c2"/>
<polygon points="1310.0,1362.0 1323.0,1368.0 1326.0,1430.0 1333.0,1500.0 1322.0,1504.0 1314.0,1440.0" fill="#a6a4a0" />
<polygon points="1318.0,1430.0 1328.0,1430.0 1334.0,1502.0 1322.0,1504.0" fill="#3a3a3a" />
<path d="M1330 1380 C1332 1372 1352 1370 1355 1380 L1355 1411 L1330 1411 Z" fill="#3c3c3c"/>
<polygon points="1321.3,1419.4 1361.8,1415.4 1390.1,1461.9 1392.1,1492.2 1341.6,1504.4 1325.4,1451.8" fill="#454545" />
<polygon points="1340.0,1485.0 1395.0,1482.0 1402.0,1505.0 1345.0,1508.0" fill="#3a3a3a" />
<polygon points="1380.0,1495.0 1420.0,1498.0 1425.0,1516.0 1382.0,1518.0" fill="#2a2a2a" />
<polygon points="1468.7,1403.2 1525.4,1429.5 1553.7,1443.7 1567.8,1461.9 1575.9,1492.2 1577.9,1504.3 1569.8,1522.5 1476.8,1526.6 1466.7,1411.3" fill="#3d3d3d" />
<path d="M1553.7 1522 L1556 1490 C1560 1476 1576 1476 1578 1500 L1576 1522 Z" fill="#1e1e1e"/>
<polygon points="1458.6,1354.7 1517.3,1395.1 1525.4,1427.5 1474.8,1403.2" fill="#e8f0fb" />
<polygon points="1414.0,1316.0 1442.0,1322.0 1482.0,1404.0 1476.0,1526.0 1448.0,1526.0 1444.0,1420.0 1432.0,1360.0" fill="#3e3c3a" />
<path d="M1400 1314 C1430 1322 1470 1345 1500 1375 L1535 1414" fill="none" stroke="#202020" stroke-width="8"/>
<path d="M1440 1324 L1477 1403" stroke="#222" stroke-width="10"/>
<path d="M1424 1330 C1440 1370 1450 1420 1452 1512" fill="none" stroke="#9a928a" stroke-width="12"/>
<path d="M1410 1318 C1430 1350 1444 1400 1446 1512" fill="none" stroke="#262626" stroke-width="6"/>
<circle cx="1537.5" cy="1423.4" r="10" fill="#1e1e1e"/>
<polygon points="1420.2,1514.4 1449.5,1514.4 1449.5,1552.8 1420.2,1552.8" fill="#605c58" />
<path d="M1454.6 1419.4 L1499 1437.6 L1493 1575" fill="none" stroke="#b4b4b4" stroke-width="2.5"/>
<rect x="2697.1" y="1362" width="552.7" height="360.8" fill="#dbedf4" stroke="#222" stroke-width="1.6"/>
<path d="M2682.3 1437.4H2726 M2782 1437.4H2824 M2953.2 1437.4H2995 M3051.3 1437.4H3093 M3222.7 1437.4H3278 M2709.9 1437.4V1653.1H2824 M2953.2 1653.1H3033.5V1476 M3033.5 1545.5H2763.4V1476" fill="none" stroke="#000" stroke-width="2.6"/>
<path d="M2746.4 1437.4L2725.9 1427.2L2725.9 1447.6Z" fill="#000"/>
<path d="M2844.2 1437.4L2823.7 1427.2L2823.7 1447.6Z" fill="#000"/>
<path d="M3015.8 1437.4L2995.3 1427.2L2995.3 1447.6Z" fill="#000"/>
<path d="M3113.4 1437.4L3092.9 1427.2L3092.9 1447.6Z" fill="#000"/>
<path d="M3297.0 1437.4L3276.5 1427.2L3276.5 1447.6Z" fill="#000"/>
<path d="M2844.2 1653.1L2823.7 1642.9L2823.7 1663.3Z" fill="#000"/>
<path d="M2763.7 1455.3L2753.5 1475.3L2773.9 1475.3Z" fill="#000"/>
<path d="M3033.5 1455.7L3023.3 1475.7L3043.7 1475.7Z" fill="#000"/>
<rect x="2844.2" y="1382.2" width="109" height="109.2" fill="#f7f6ef" stroke="#000" stroke-width="2.6"/>
<rect x="2844.2" y="1599" width="109" height="108.2" fill="#f7f6ef" stroke="#000" stroke-width="2.6"/>
<rect x="3114" y="1382.2" width="108.7" height="109.2" fill="#f7f6ef" stroke="#000" stroke-width="2.6"/>
<circle cx="2764" cy="1437.4" r="17.4" fill="#f7f6ef" stroke="#000" stroke-width="2.6"/>
<path d="M2751.7 1425.1L2776.3 1449.7M2776.3 1425.1L2751.7 1449.7" stroke="#000" stroke-width="2.4"/>
<circle cx="3033.5" cy="1437.4" r="17.8" fill="#f7f6ef" stroke="#000" stroke-width="2.6"/>
<path d="M3134.5 1473.8 C3170 1474 3195 1450 3198.5 1399.8" fill="none" stroke="#000" stroke-width="2.8"/>
<text x="2898.6" y="1428.3" font-size="26" text-anchor="middle" fill="#000" textLength="47" lengthAdjust="spacingAndGlyphs">Fast</text>
<text x="2898.6" y="1463.8" font-size="26" text-anchor="middle" fill="#000" textLength="51" lengthAdjust="spacingAndGlyphs">Path</text>
<text x="2898.6" y="1644.6" font-size="26" text-anchor="middle" fill="#000" textLength="56" lengthAdjust="spacingAndGlyphs">Slow</text>
<text x="2898.6" y="1680.1" font-size="26" text-anchor="middle" fill="#000" textLength="51" lengthAdjust="spacingAndGlyphs">Path</text>
<path d="M3002 1411.2H3019M3010.5 1402.7V1419.7M3006.8 1465.3H3023.8M3015.3 1456.8V1473.8" stroke="#000" stroke-width="2.6"/>
<path d="M320 268.5 H382" fill="none" stroke="#000" stroke-width="2.4" />
<path d="M410.60 268.50 L380.60 258.90 L380.60 278.10Z" fill="#000"/>
<path d="M676.4 268.5 H757" fill="none" stroke="#000" stroke-width="2.4" />
<path d="M785.40 268.50 L755.40 258.90 L755.40 278.10Z" fill="#000"/>
<path d="M652.3 577.7 H757" fill="none" stroke="#000" stroke-width="2.4" />
<path d="M785.40 577.70 L755.40 568.10 L755.40 587.30Z" fill="#000"/>
<path d="M262.6 995.3 H383" fill="none" stroke="#000" stroke-width="2.4" />
<path d="M411.00 995.30 L381.00 985.70 L381.00 1004.90Z" fill="#000"/>
<path d="M676 995.3 H987.3 Q1007.3 995.3 1007.3 975.3 V840" fill="none" stroke="#000" stroke-width="2.4" />
<path d="M1007.30 809.50 L997.70 839.50 L1016.90 839.50Z" fill="#000"/>
<path d="M987.3 995.3 Q1007.3 995.3 1007.3 1015.3 V1873.3 Q1007.3 1896.3 1030.3 1896.3 H1392.5 Q1415.5 1896.3 1415.5 1873.3 V1870" fill="none" stroke="#000" stroke-width="2.4" />
<path d="M1415.50 1842.50 L1405.90 1872.50 L1425.10 1872.50Z" fill="#000"/>
<path d="M1199.6 1511.7 H1111 Q1089.3 1511.7 1089.3 1490 V840" fill="none" stroke="#000" stroke-width="2.4" />
<path d="M1089.30 809.50 L1079.70 839.50 L1098.90 839.50Z" fill="#000"/>
<path d="M2199.3 446.5 H2547.8 Q2568.8 446.5 2568.8 467.5 V1030 Q2568.8 1051 2547.8 1051 H1436 Q1415 1051 1415 1072 V1153" fill="none" stroke="#000" stroke-width="2.4" />
<path d="M1415.00 1182.50 L1405.40 1152.50 L1424.60 1152.50Z" fill="#000"/>
<path d="M1633.4 1512 H1768" fill="none" stroke="#000" stroke-width="2.4" />
<path d="M1797.00 1512.00 L1767.00 1502.40 L1767.00 1521.60Z" fill="#000"/>
<path d="M2476 1511.2 H2632" fill="none" stroke="#000" stroke-width="2.4" />
<path d="M2662.00 1511.20 L2632.00 1501.60 L2632.00 1520.80Z" fill="#000"/>
<path d="M3318 1511 H3392" fill="none" stroke="#000" stroke-width="2.4" />
<path d="M3422.00 1511.00 L3392.00 1501.40 L3392.00 1520.60Z" fill="#000"/>
<path d="M1856.0 1108.4H1893.3M1856.0 1895.2H1893.3M1911.9 1108.4H1949.2M1911.9 1895.2H1949.2M1967.8 1108.4H2005.1M1967.8 1895.2H2005.1M2023.6 1108.4H2060.9M2023.6 1895.2H2060.9M2079.5 1108.4H2116.8M2079.5 1895.2H2116.8M2135.4 1108.4H2172.7M2135.4 1895.2H2172.7M2191.3 1108.4H2228.6M2191.3 1895.2H2228.6M2247.2 1108.4H2284.5M2247.2 1895.2H2284.5M2303.0 1108.4H2340.3M2303.0 1895.2H2340.3M2358.9 1108.4H2396.2M2358.9 1895.2H2396.2M2414.8 1108.4H2452.1M2414.8 1895.2H2452.1M2470.7 1108.4H2508.0M2470.7 1895.2H2508.0M2526.6 1108.4H2563.9M2526.6 1895.2H2563.9M2582.4 1108.4H2619.7M2582.4 1895.2H2619.7M2638.3 1108.4H2675.6M2638.3 1895.2H2675.6M2694.2 1108.4H2731.5M2694.2 1895.2H2731.5M2750.1 1108.4H2787.4M2750.1 1895.2H2787.4M2806.0 1108.4H2843.3M2806.0 1895.2H2843.3M2861.8 1108.4H2899.1M2861.8 1895.2H2899.1M2917.7 1108.4H2955.0M2917.7 1895.2H2955.0M2973.6 1108.4H3010.9M2973.6 1895.2H3010.9M3029.5 1108.4H3066.8M3029.5 1895.2H3066.8M3085.4 1108.4H3122.7M3085.4 1895.2H3122.7M3141.2 1108.4H3178.5M3141.2 1895.2H3178.5M3197.1 1108.4H3234.4M3197.1 1895.2H3234.4M3253.0 1108.4H3290.3M3253.0 1895.2H3290.3M3308.9 1108.4H3346.2M3308.9 1895.2H3346.2M3364.8 1108.4H3402.1M3364.8 1895.2H3402.1M3420.6 1108.4H3457.9M3420.6 1895.2H3457.9M3476.5 1108.4H3513.8M3476.5 1895.2H3513.8M3532.4 1108.4H3569.7M3532.4 1895.2H3569.7M1781.2 1182.6V1219.1M3645.1 1182.6V1219.1M1781.2 1237.4V1273.9M3645.1 1237.4V1273.9M1781.2 1292.3V1328.8M3645.1 1292.3V1328.8M1781.2 1347.1V1383.6M3645.1 1347.1V1383.6M1781.2 1401.9V1438.4M3645.1 1401.9V1438.4M1781.2 1456.8V1493.2M3645.1 1456.8V1493.2M1781.2 1511.6V1548.1M3645.1 1511.6V1548.1M1781.2 1566.4V1602.9M3645.1 1566.4V1602.9M1781.2 1621.2V1657.7M3645.1 1621.2V1657.7M1781.2 1676.1V1712.6M3645.1 1676.1V1712.6M1781.2 1730.9V1767.4M3645.1 1730.9V1767.4M1781.2 1785.7V1822.2M3645.1 1785.7V1822.2M1799.5 1113.5A37 37 0 0 1 1818.2 1108.4H1837.4M1781.2 1163.6V1145.4A37 37 0 0 1 1786.3 1126.7M3588.3 1108.4H3608.1A37 37 0 0 1 3626.8 1113.5M3640.0 1126.7A37 37 0 0 1 3645.1 1145.4V1163.6M3645.1 1841V1858.2A37 37 0 0 1 3640.0 1876.9M3626.8 1890.1A37 37 0 0 1 3608.1 1895.2H3588.3M1837.6 1895.2H1818.2A37 37 0 0 1 1799.5 1890.1M1786.3 1876.9A37 37 0 0 1 1781.2 1858.2V1841" fill="none" stroke="#6aaeff" stroke-width="3.8"/>
<g fill="#000">
<text x="179" y="225.2" font-size="42" text-anchor="middle" fill="#000" >Reference</text><text x="179" y="274.9" font-size="42" text-anchor="middle" fill="#000" >Vehicle</text><text x="179" y="324.6" font-size="42" text-anchor="middle" fill="#000" >Specifc Forces</text>
<text x="543.5" y="229" font-size="42" text-anchor="middle" fill="#000" >Scale</text><text x="543.5" y="279" font-size="42" text-anchor="middle" fill="#000" >&amp;</text><text x="543.5" y="329.3" font-size="42" text-anchor="middle" fill="#000" >Limit</text>
<text x="543.5" y="954.5" font-size="42" text-anchor="middle" fill="#000" >Scale</text><text x="543.5" y="1004.5" font-size="42" text-anchor="middle" fill="#000" >&amp;</text><text x="543.5" y="1054.8" font-size="42" text-anchor="middle" fill="#000" >Limit</text>
<text x="521.8" y="534.2" font-size="42" text-anchor="middle" fill="#000" >Reference</text><text x="521.8" y="583.9" font-size="42" text-anchor="middle" fill="#000" >Sensory</text><text x="521.8" y="633.6" font-size="42" text-anchor="middle" fill="#000" >Conflict</text>
<text x="131.8" y="979.5" font-size="42" text-anchor="middle" fill="#000" >Reference</text><text x="131.8" y="1029.4" font-size="42" text-anchor="middle" fill="#000" >Vehicle Yaw</text>
<text x="826" y="72" font-size="42" text-anchor="start" fill="#000" >Model Predictive Control</text>
<text x="850" y="163" font-size="42" text-anchor="start" fill="#000" >Hexapod Dynamics</text>
<text x="1328" y="164" font-size="42" text-anchor="start" fill="#000" textLength="647.3" lengthAdjust="spacingAndGlyphs">Sensory Conflict Generation Model</text>
<text x="1239" y="929.8" font-size="42" text-anchor="middle" fill="#000" >System States</text><text x="1239" y="979.5" font-size="42" text-anchor="middle" fill="#000" >(Feedback)</text>
<text x="1944" y="978" font-size="42" text-anchor="middle" fill="#000" >Control</text><text x="1944" y="1027.7" font-size="42" text-anchor="middle" fill="#000" >Inputs</text>
<text x="1833" y="1158.7" font-size="42" text-anchor="start" fill="#000" >MISC Prediction</text>
<text x="1816" y="1228" font-size="42" text-anchor="start" fill="#000" textLength="647.3" lengthAdjust="spacingAndGlyphs">Sensory Conflict Generation Model</text>
<text x="1213.5" y="1228.2" font-size="42" text-anchor="start" fill="#000" >Simulator</text>
<text x="1654" y="1479.6" font-size="42" text-anchor="start" fill="#000" >Motion</text>
<text x="1064.5" y="1871" font-size="42" text-anchor="start" fill="#000" >Yaw</text>
<text x="2568.75" y="1428" font-size="42" text-anchor="middle" fill="#000" >Sensory</text><text x="2568.75" y="1477.8" font-size="42" text-anchor="middle" fill="#000" >Conflcit</text>
<text x="2681" y="1227" font-size="42" text-anchor="start" fill="#000" >Accumulation Model</text>
<text x="3532" y="1467.5" font-size="42" text-anchor="middle" fill="#000" >Motion</text><text x="3532" y="1516.5" font-size="42" text-anchor="middle" fill="#000" >Sickness</text><text x="3532" y="1567.4" font-size="42" text-anchor="middle" fill="#000" >(MISC)</text>
</g>
</svg></body></html>
